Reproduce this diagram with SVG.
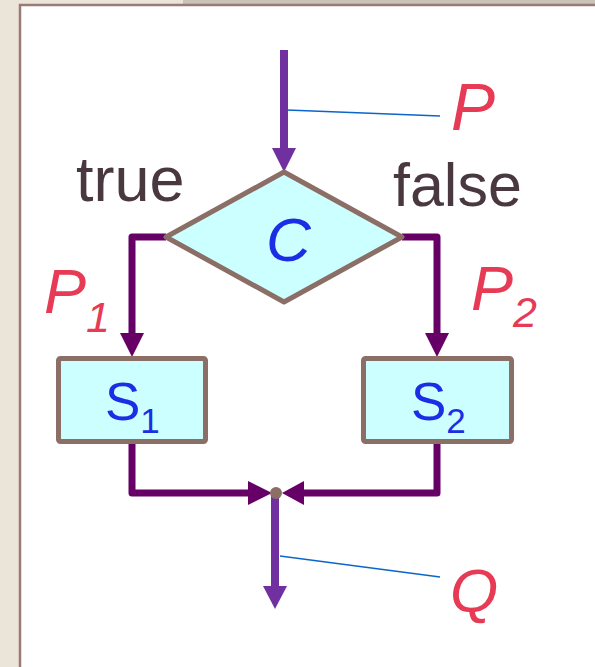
<svg xmlns="http://www.w3.org/2000/svg" width="595" height="667" viewBox="0 0 595 667">
<defs>
<style>
.lbl{font-family:"Liberation Sans",Arial,sans-serif;}
.dark{fill:#4a3840;}
.red{fill:#e63a55;font-style:italic;}
.blue{fill:#1b2ee6;}
.node{fill:#ccffff;stroke:#8b6e66;stroke-width:5;stroke-linejoin:round;}
.flow{fill:none;stroke:#660066;stroke-width:7;stroke-linejoin:round;}
.main{fill:none;stroke:#7030a0;stroke-width:8;}
.lead{fill:none;stroke:#0a66cc;stroke-width:1.6;}
</style>
</defs>
<rect x="0" y="0" width="595" height="667" fill="#ebe4d8"/>
<rect x="183" y="0" width="412" height="5" fill="#c8c4b8"/>
<rect x="20" y="5" width="580" height="670" fill="#ffffff" stroke="#9a7a74" stroke-width="2.5"/>

<g id="connectors">
<path class="main" d="M284 50 V150"/>
<polygon points="272,148 296,148 284,172" fill="#7030a0"/>
<path class="flow" d="M166 237 H132 V335"/>
<polygon points="120,333 144,333 132,357" fill="#660066"/>
<path class="flow" d="M402 237 H437 V335"/>
<polygon points="425,333 449,333 437,357" fill="#660066"/>
<path class="flow" d="M132 444 V493 H250"/>
<polygon points="248,481 248,505 272,493" fill="#660066"/>
<path class="flow" d="M437 444 V493 H302"/>
<polygon points="304,481 304,505 282,493" fill="#660066"/>
<path class="main" d="M275 493 V588"/>
<polygon points="263,586 287,586 275,609" fill="#7030a0"/>
<circle cx="276" cy="493" r="6" fill="#8b6e66"/>
<path class="lead" d="M287 110 L440 116"/>
<path class="lead" d="M280 556 L440 577"/>
</g>

<g id="decision">
<polygon class="node" points="284,172 402,237 284,302 166,237" stroke-width="4.5"/>
<text class="lbl blue" x="266" y="261" font-size="62" font-style="italic">C</text>
</g>
<g id="s1">
<rect class="node" x="58.5" y="358.5" width="147" height="83" rx="2"/>
<text class="lbl blue" x="105" y="420" font-size="53">S<tspan font-size="35" y="433">1</tspan></text>
</g>
<g id="s2">
<rect class="node" x="363.5" y="358.5" width="148" height="83" rx="2"/>
<text class="lbl blue" x="411" y="420" font-size="53">S<tspan font-size="35" y="433">2</tspan></text>
</g>

<g id="labels">
<text class="lbl dark" x="76" y="201" font-size="63">true</text>
<text class="lbl dark" x="393" y="206" font-size="61">false</text>
<text class="lbl red" x="451" y="130" font-size="66">P</text>
<text class="lbl red" x="44" y="313" font-size="63">P<tspan font-size="43" y="332">1</tspan></text>
<text class="lbl red" x="471" y="310" font-size="63">P<tspan font-size="43" y="327">2</tspan></text>
<text class="lbl red" x="450" y="612" font-size="62" font-style="normal">Q</text>
</g>
</svg>
